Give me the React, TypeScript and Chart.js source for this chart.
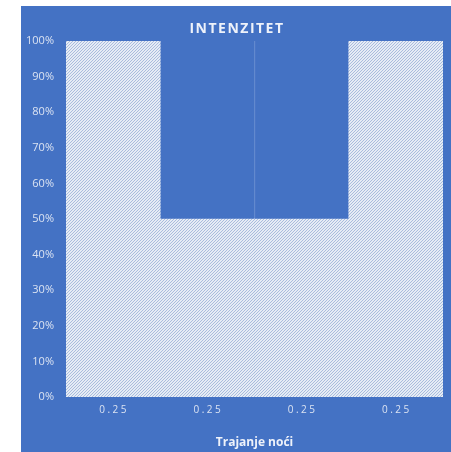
import React, { useEffect, useRef } from "react";
import { Chart, registerables } from "chart.js";

Chart.register(...registerables);

const chartTitle = "INTENZITET";
const xAxisTitle = "Trajanje noći";
const categories = ["0.25", "0.25", "0.25", "0.25"];
const hatchedValues = [100, 50, 50, 100];
const solidValues = [0, 50, 50, 0];
const yMax = 100;
const yStep = 10;

const BG = "#4472C4";
const TEXT = "#dbe3f2";

function makePattern(): CanvasPattern | string {
  const c = document.createElement("canvas");
  const s = 3;
  c.width = s;
  c.height = s;
  const g = c.getContext("2d");
  if (!g) return "#dde4f0";
  g.fillStyle = "#e6ecf5";
  g.fillRect(0, 0, s, s);
  g.fillStyle = "#a9bcdd";
  for (let i = 0; i < s; i++) g.fillRect(i, s - 1 - i, 1, 1);
  const p = g.createPattern(c, "repeat");
  return p || "#dde4f0";
}

export default function App() {
  const ref = useRef<HTMLCanvasElement | null>(null);

  useEffect(() => {
    if (!ref.current) return;
    const pattern = makePattern();
    const textPlugin = {
      id: "texts",
      afterDraw(chart: any) {
        const ctx = chart.ctx as CanvasRenderingContext2D;
        const x = chart.scales.x;
        const area = chart.chartArea;
        ctx.save();
        ctx.textBaseline = "middle";
        ctx.textAlign = "center";
        (ctx as any).letterSpacing = "1.5px";
        ctx.font = "bold 14px 'Open Sans'";
        ctx.fillStyle = "#eef2fa";
        ctx.fillText(chartTitle, chart.width / 2 + 1, 23);
        (ctx as any).letterSpacing = "2.5px";
        ctx.font = "10px 'Open Sans'";
        ctx.fillStyle = TEXT;
        categories.forEach((lab, i) => {
          ctx.fillText(lab, x.getPixelForValue(i) + 1, area.bottom + 13);
        });
        (ctx as any).letterSpacing = "0px";
        ctx.font = "bold 12px 'Open Sans'";
        ctx.fillStyle = "#eef2fa";
        ctx.fillText(xAxisTitle, (area.left + area.right) / 2, area.bottom + 46);
        ctx.restore();
      },
    };

    const chart = new Chart(ref.current, {
      type: "bar",
      data: {
        labels: categories,
        datasets: [
          {
            label: "hatched",
            data: hatchedValues,
            backgroundColor: pattern as any,
            borderWidth: 0,
            categoryPercentage: 1,
            barPercentage: 1,
          },
          {
            label: "solid",
            data: solidValues,
            backgroundColor: BG,
            borderColor: "#7294d3",
            borderWidth: (c: any) =>
              c.dataIndex === 2 ? { left: 1, right: 0, top: 0, bottom: 0 } : 0,
            borderSkipped: false,
            categoryPercentage: 1,
            barPercentage: 1,
          },
        ],
      },
      options: {
        animation: false,
        responsive: true,
        maintainAspectRatio: false,
        layout: { padding: { top: 35, right: 8, left: 0, bottom: 0 } },
        plugins: {
          legend: { display: false },
          title: { display: false },
          tooltip: { enabled: false },
        },
        scales: {
          x: {
            stacked: true,
            grid: { display: false, drawTicks: false },
            border: { display: false },
            ticks: { display: false },
            afterFit: (s: any) => {
              s.height = 55;
            },
          },
          y: {
            stacked: true,
            min: 0,
            max: yMax,
            grid: { display: false, drawTicks: false },
            border: { display: false },
            ticks: {
              stepSize: yStep,
              padding: 12,
              color: TEXT,
              font: { family: "'Open Sans'", size: 11 },
              callback: (v: any) => v + "%",
            },
            afterFit: (s: any) => {
              s.width = 45;
            },
          },
        },
      },
      plugins: [textPlugin],
    });
    return () => chart.destroy();
  }, []);

  return (
    <div
      style={{
        position: "absolute",
        left: 21,
        top: 6,
        width: 430,
        height: 446,
        background: BG,
      }}
    >
      <canvas ref={ref} style={{ width: 430, height: 446 }} />
    </div>
  );
}
